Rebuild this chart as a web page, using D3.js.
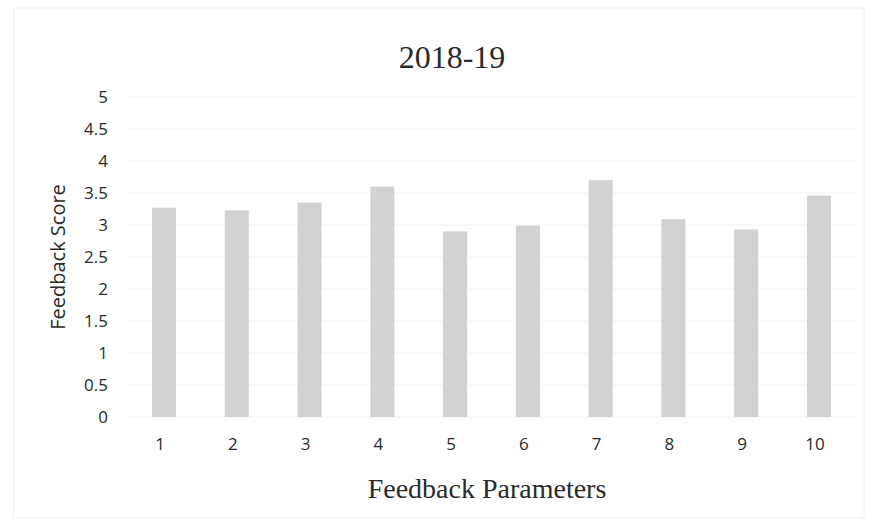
<!DOCTYPE html>
<html>
<head>
<meta charset="utf-8">
<script src="https://cdn.jsdelivr.net/npm/d3@7"></script>
<style>
  body { margin: 0; background: #fff; }
  svg text { fill: #2a2a2a; }
</style>
</head>
<body>
<div id="chart"></div>
<script>
// feedback parameters and their scores
var parameters = ['1', '2', '3', '4', '5', '6', '7', '8', '9', '10'];
var scores = [3.27, 3.23, 3.35, 3.6, 2.9, 2.99, 3.7, 3.09, 2.93, 3.46];
var yTicks = [0, 0.5, 1, 1.5, 2, 2.5, 3, 3.5, 4, 4.5, 5];

var width = 874, height = 532;
var margin = {top: 97, right: 19, bottom: 115, left: 128};

var svg = d3.select('#chart')
            .append('svg')
            .attr('width', width)
            .attr('height', height);

// faint outline of the chart area
svg.append('rect')
   .attr('x', 14).attr('y', 8)
   .attr('width', width - 24).attr('height', height - 22)
   .attr('fill', 'none')
   .attr('stroke', '#f0f0f0');

var x = d3.scaleBand()
          .domain(parameters)
          .range([margin.left, width - margin.right])
          .paddingInner(0.67)
          .paddingOuter(0.33);

var y = d3.scaleLinear()
          .domain([0, 5])
          .range([height - margin.bottom, margin.top]);

// gridlines
svg.append('g')
   .selectAll('line')
   .data(yTicks)
   .enter()
   .append('line')
   .attr('x1', margin.left)
   .attr('x2', width - margin.right)
   .attr('y1', function(d) { return y(d); })
   .attr('y2', function(d) { return y(d); })
   .attr('stroke', '#f2f2f2')
   .attr('stroke-width', 1);

// y axis (labels only)
var yAxis = svg.append('g')
   .attr('transform', 'translate(' + (margin.left - 20) + ',0)')
   .call(d3.axisLeft(y).tickValues(yTicks).tickFormat(d3.format('~g')).tickSize(0).tickPadding(0));
yAxis.select('.domain').remove();
yAxis.selectAll('text')
     .style('font-family', '"Open Sans", sans-serif')
     .style('font-size', '17px')
     .attr('fill', '#1e1e1e');

// bars
svg.append('g')
   .selectAll('rect')
   .data(scores)
   .enter()
   .append('rect')
   .attr('x', function(d, i) { return x(parameters[i]); })
   .attr('width', x.bandwidth())
   .attr('y', function(d) { return y(d); })
   .attr('height', function(d) { return y(0) - y(d); })
   .attr('fill', '#d2d2d4');

// x axis (labels only)
var xAxis = svg.append('g')
   .attr('transform', 'translate(-4,' + (y(0) + 21) + ')')
   .call(d3.axisBottom(x).tickSize(0).tickPadding(0));
xAxis.select('.domain').remove();
xAxis.selectAll('text')
     .attr('dy', '0.71em')
     .style('font-family', '"Open Sans", sans-serif')
     .style('font-size', '17px')
     .attr('fill', '#1e1e1e');

// title
svg.append('text')
   .attr('x', 452)
   .attr('y', 68)
   .attr('text-anchor', 'middle')
   .style('font-family', '"Liberation Serif", "DejaVu Serif", serif')
   .style('font-size', '32px')
   .text('2018-19');

// x axis title
svg.append('text')
   .attr('x', 487)
   .attr('y', 498)
   .attr('text-anchor', 'middle')
   .style('font-family', '"Liberation Serif", "DejaVu Serif", serif')
   .style('font-size', '28px')
   .text('Feedback Parameters');

// y axis title
svg.append('text')
   .attr('transform', 'translate(65,' + y(2.5) + ') rotate(-90)')
   .attr('text-anchor', 'middle')
   .style('font-family', '"Open Sans", sans-serif')
   .style('font-size', '20px')
   .text('Feedback Score');
</script>
</body>
</html>
